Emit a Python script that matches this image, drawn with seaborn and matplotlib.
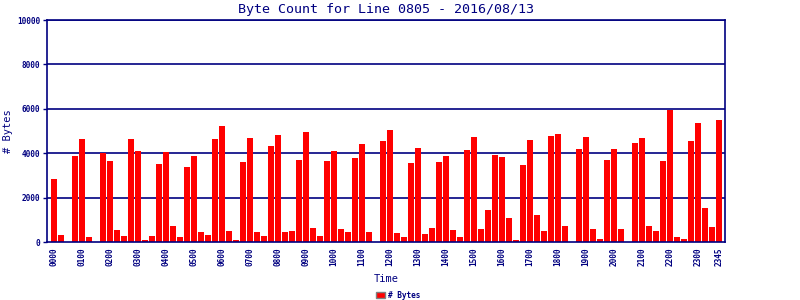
import matplotlib
matplotlib.use("Agg")
import matplotlib.pyplot as plt
import seaborn as sns
import pandas as pd
from matplotlib.patches import Patch

# ---- data ----
times = [f"{h:02d}{m:02d}" for h in range(24) for m in (0, 15, 30, 45)]
byte_counts = [
    2840, 315, 0, 3870, 4640, 240, 0, 3990,
    3650, 540, 270, 4640, 4100, 90, 270, 3510,
    4050, 720, 225, 3380, 3870, 450, 315, 4640,
    5225, 495, 90, 3600, 4685, 450, 270, 4320,
    4820, 450, 495, 3690, 4955, 630, 270, 3650,
    4100, 585, 450, 3780, 4410, 450, 0, 4550,
    5045, 405, 225, 3560, 4230, 360, 630, 3600,
    3870, 540, 225, 4140, 4730, 585, 1440, 3920,
    3830, 1080, 90, 3470, 4595, 1215, 495, 4775,
    4865, 720, 0, 4190, 4730, 585, 135, 3690,
    4190, 585, 0, 4460, 4685, 720, 495, 3650,
    5950, 225, 135, 4550, 5360, 1530, 675, 5495,
]
tick_labels = ["0000", "0100", "0200", "0300", "0400", "0500", "0600", "0700",
               "0800", "0900", "1000", "1100", "1200", "1300", "1400", "1500",
               "1600", "1700", "1800", "1900", "2000", "2100", "2200", "2300", "2345"]
y_ticks = [0, 2000, 4000, 6000, 8000, 10000]

title = "Byte Count for Line 0805 - 2016/08/13"
series_name = "# Bytes"

NAVY = "#000080"
RED = "#ff0000"

df = pd.DataFrame({"Time": times, "Bytes": byte_counts})

sns.set_theme(style="white")
plt.rcParams["font.family"] = ["DejaVu Sans Mono", "DejaVu Sans"]

fig = plt.figure(figsize=(8, 3), dpi=100)
ax = fig.add_axes([47 / 800, 58 / 300, 678 / 800, 222 / 300])

sns.barplot(data=df, x="Time", y="Bytes", color=RED, saturation=1,
            width=0.86, ax=ax, linewidth=0, edgecolor="none")
for p in ax.patches:
    p.set_zorder(3)

ax.set_xlim(-1.0, 95.86)
ax.set_ylim(0, 10000)

# grid lines
for v in y_ticks[1:]:
    ax.axhline(v, color=NAVY, lw=1.2, zorder=1)

tick_pos = [times.index(t) for t in tick_labels]
ax.set_xticks(tick_pos)
ax.set_xticklabels(tick_labels, rotation=90, fontsize=5.6, color=NAVY,
                   fontweight="bold")
ax.set_yticks(y_ticks)
ax.set_yticklabels([str(v) for v in y_ticks], fontsize=5.6, color=NAVY,
                   fontweight="bold")
ax.tick_params(axis="y", length=3, width=1, color=NAVY, pad=2, left=True)
ax.tick_params(axis="x", length=0, pad=4)

for s in ax.spines.values():
    s.set_color(NAVY)
    s.set_linewidth(1.2)
    s.set_visible(True)
    s.set_zorder(4)

ax.set_xlabel("Time", fontsize=7.5, color=NAVY, labelpad=6)
ax.set_ylabel(series_name, fontsize=7.5, color=NAVY)
ax.yaxis.set_label_coords(-34 / 678, 0.5)

fig.text(386 / 800, 1 - 10 / 300, title, ha="center", va="center",
         fontsize=9.6, color=NAVY)

handle = Patch(facecolor=RED, edgecolor="#808080", linewidth=1)
fig.legend([handle], [series_name], loc="center", bbox_to_anchor=(398 / 800, 1 - 295 / 300),
           frameon=False, handlelength=1.2, handleheight=0.9,
           handletextpad=0.4, prop={"weight": "bold", "size": 5.6})
for t in fig.legends[0].get_texts():
    t.set_color(NAVY)

fig.savefig("out.png", dpi=100)
